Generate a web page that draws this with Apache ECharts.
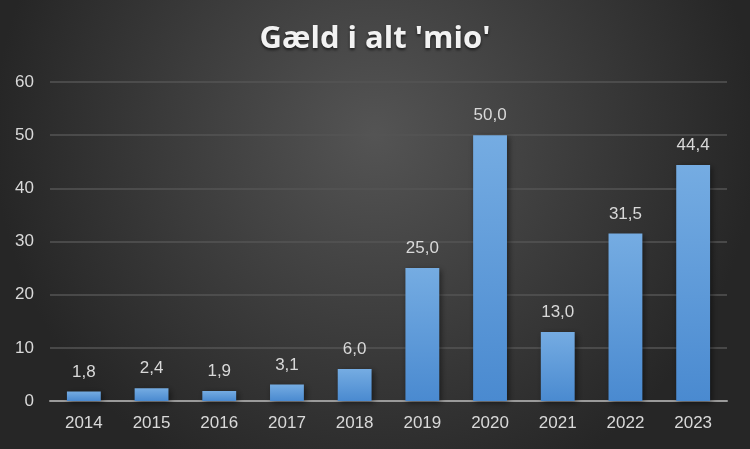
<!DOCTYPE html>
<html><head><meta charset="utf-8">
<script src="https://cdn.jsdelivr.net/npm/echarts@6/dist/echarts.min.js"></script>
<style>html,body{margin:0;padding:0;background:#2a2a2a}#c{width:750px;height:449px}</style>
</head><body><div id="c"></div>
<script>
var categories = ['2014','2015','2016','2017','2018','2019','2020','2021','2022','2023'];
var values = [1.8, 2.4, 1.9, 3.1, 6.0, 25.0, 50.0, 13.0, 31.5, 44.4];
var titleText = "Gæld i alt 'mio'";

var chart = echarts.init(document.getElementById('c'));
chart.setOption({
  backgroundColor: {
    type: 'radial', x: 0.5, y: 0.3, r: 0.85,
    colorStops: [{offset: 0, color: '#545454'}, {offset: 1, color: '#262626'}]
  },
  title: {
    text: titleText, left: 'center', top: 19,
    textStyle: {color: '#f2f2f2', fontSize: 31, fontWeight: 'bold', fontFamily: 'Open Sans',
      textShadowColor: 'rgba(0,0,0,0.6)', textShadowBlur: 3, textShadowOffsetY: 2}
  },
  grid: {left: 50, right: 23, top: 82, bottom: 48},
  xAxis: {
    type: 'category', data: categories,
    axisLine: {lineStyle: {color: '#9a9a9a', width: 2}},
    axisTick: {show: false},
    axisLabel: {color: '#d9d9d9', fontSize: 17, fontFamily: 'Liberation Sans', margin: 14}
  },
  yAxis: {
    type: 'value', min: 0, max: 60, interval: 10,
    axisLine: {show: false}, axisTick: {show: false},
    splitLine: {lineStyle: {color: '#555555', width: 1.5}},
    axisLabel: {color: '#d9d9d9', fontSize: 17, fontFamily: 'Liberation Sans', margin: 16}
  },
  series: [{
    type: 'bar', data: values, barWidth: '50%',
    itemStyle: {
      color: {type: 'linear', x: 0, y: 0, x2: 0, y2: 1,
        colorStops: [{offset: 0, color: '#75ace2'}, {offset: 1, color: '#4a8ad0'}]},
      shadowColor: 'rgba(0,0,0,0.5)', shadowBlur: 6, shadowOffsetX: 2, shadowOffsetY: 2
    },
    label: {
      show: true, position: 'top', distance: 11, color: '#d9d9d9', fontSize: 17,
      fontFamily: 'Liberation Sans',
      formatter: function(p){ return p.value.toFixed(1).replace('.', ','); }
    }
  }]
});
</script></body></html>
